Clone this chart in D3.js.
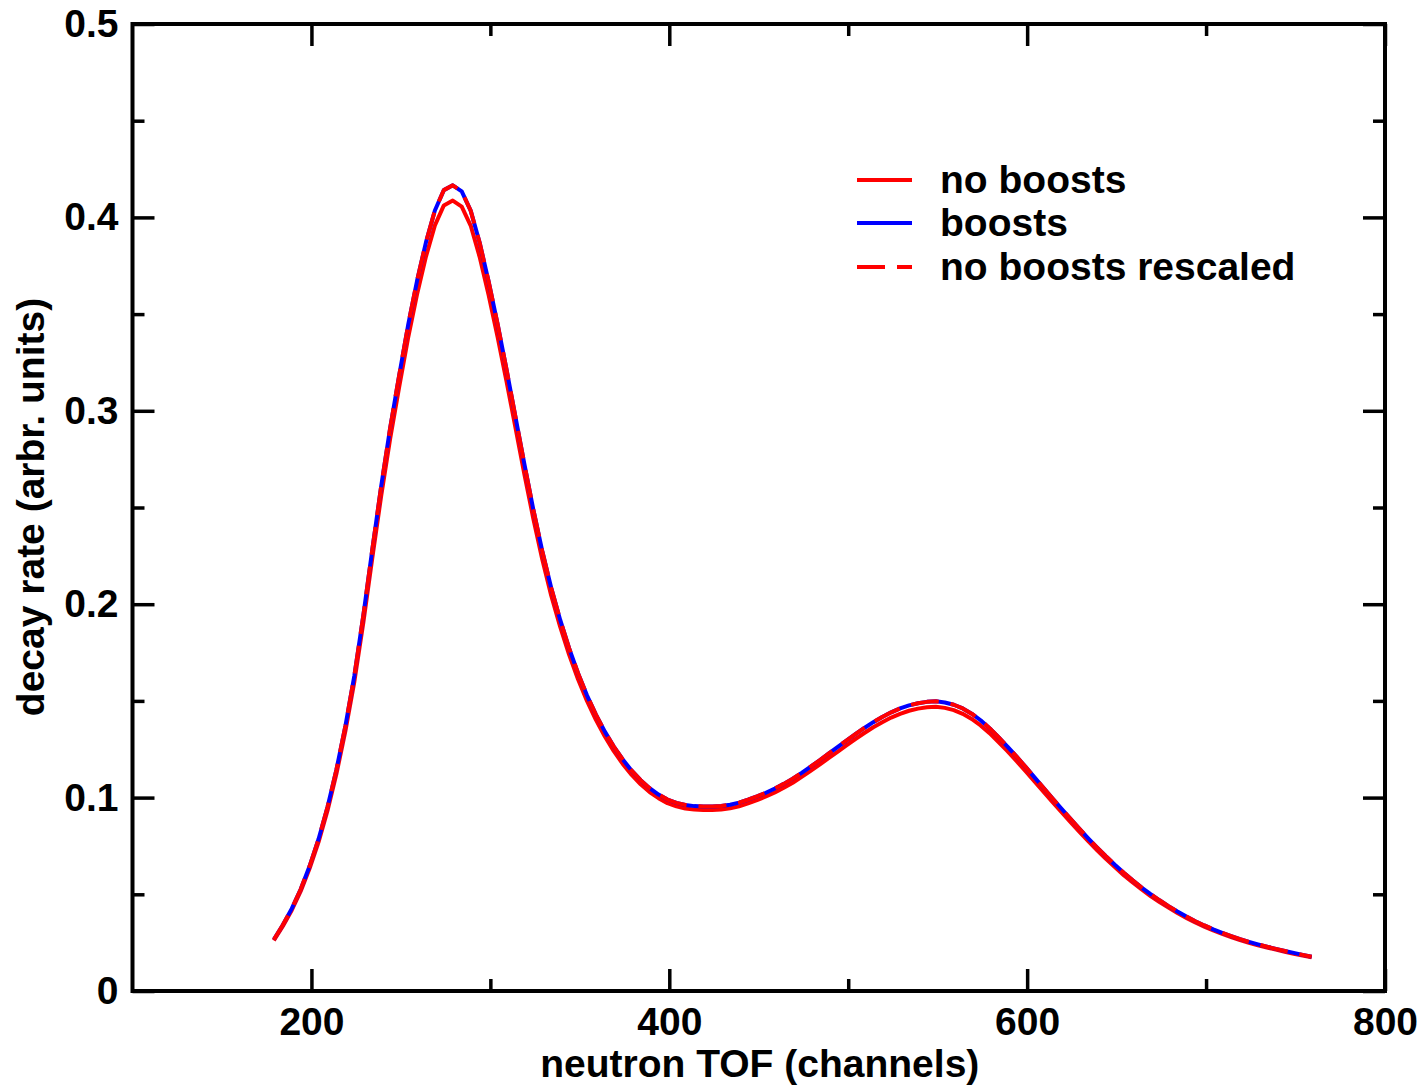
<!DOCTYPE html>
<html>
<head>
<meta charset="utf-8">
<script src="https://cdn.jsdelivr.net/npm/d3@7/dist/d3.min.js"></script>
<style>
  html, body { margin: 0; padding: 0; background: #fff; }
  svg { display: block; }
  text { font-family: "Liberation Sans", Arial, Helvetica, sans-serif; font-weight: bold; fill: #000; }
</style>
</head>
<body>
<svg id="chart" width="1422" height="1086"></svg>
<script>
// Sample grid: neutron time-of-flight channel, every 5 channels
const channels = d3.range(179, 760, 5);

// Decay rate with boosts
const boosts = [
  0.0266, 0.0341, 0.0426, 0.0526, 0.0646, 0.0786, 0.0951, 0.1146, 0.1371, 0.1631,
  0.1941, 0.2281, 0.2611, 0.2911, 0.3181, 0.3441, 0.3671, 0.3871, 0.4036, 0.4141,
  0.4166, 0.4135, 0.4035, 0.3870, 0.3670, 0.3450, 0.3215, 0.2970, 0.2725, 0.2490,
  0.2275, 0.2085, 0.1920, 0.1773, 0.1643, 0.1529, 0.1429, 0.1341, 0.1264, 0.1197,
  0.1139, 0.1090, 0.1049, 0.1016, 0.0990, 0.0973, 0.0962, 0.0956, 0.0954, 0.0954,
  0.0957, 0.0963, 0.0974, 0.0989, 0.1006, 0.1025, 0.1047, 0.1071, 0.1098, 0.1128,
  0.1160, 0.1193, 0.1227, 0.1261, 0.1295, 0.1328, 0.1360, 0.1390, 0.1417, 0.1441,
  0.1461, 0.1477, 0.1488, 0.1495, 0.1498, 0.1492, 0.1480, 0.1461, 0.1434, 0.1400,
  0.1359, 0.1312, 0.1264, 0.1213, 0.1160, 0.1106, 0.1052, 0.0998, 0.0945, 0.0893,
  0.0841, 0.0791, 0.0743, 0.0697, 0.0653, 0.0611, 0.0572, 0.0535, 0.0501, 0.0469,
  0.0439, 0.0411, 0.0385, 0.0361, 0.0339, 0.0319, 0.0301, 0.0284, 0.0268, 0.0254,
  0.0241, 0.0229, 0.0218, 0.0207, 0.0197, 0.0187, 0.0177
];

// Decay rate without boosts
const noBoosts = [
  0.0261, 0.0335, 0.0418, 0.0516, 0.0634, 0.0771, 0.0933, 0.1124, 0.1345, 0.1600,
  0.1904, 0.2238, 0.2561, 0.2856, 0.3121, 0.3376, 0.3601, 0.3797, 0.3959, 0.4062,
  0.4087, 0.4056, 0.3958, 0.3796, 0.3600, 0.3384, 0.3154, 0.2914, 0.2673, 0.2443,
  0.2232, 0.2045, 0.1884, 0.1739, 0.1612, 0.1500, 0.1402, 0.1316, 0.1240, 0.1174,
  0.1117, 0.1069, 0.1029, 0.0997, 0.0971, 0.0955, 0.0944, 0.0938, 0.0936, 0.0936,
  0.0939, 0.0945, 0.0955, 0.0970, 0.0987, 0.1006, 0.1027, 0.1051, 0.1077, 0.1107,
  0.1138, 0.1170, 0.1204, 0.1237, 0.1270, 0.1303, 0.1334, 0.1364, 0.1390, 0.1414,
  0.1433, 0.1449, 0.1460, 0.1467, 0.1470, 0.1464, 0.1452, 0.1433, 0.1407, 0.1373,
  0.1333, 0.1287, 0.1240, 0.1190, 0.1138, 0.1085, 0.1032, 0.0979, 0.0927, 0.0876,
  0.0825, 0.0776, 0.0729, 0.0684, 0.0641, 0.0599, 0.0561, 0.0525, 0.0491, 0.0460,
  0.0431, 0.0403, 0.0378, 0.0354, 0.0333, 0.0313, 0.0295, 0.0279, 0.0263, 0.0249,
  0.0236, 0.0225, 0.0214, 0.0203, 0.0193, 0.0183, 0.0174
];

// Decay rate without boosts, normalised to the boosted total
const noBoostsRescaled = [
  0.0266, 0.0341, 0.0426, 0.0526, 0.0646, 0.0786, 0.0951, 0.1146, 0.1371, 0.1631,
  0.1941, 0.2281, 0.2611, 0.2911, 0.3181, 0.3441, 0.3671, 0.3871, 0.4036, 0.4141,
  0.4166, 0.4135, 0.4035, 0.3870, 0.3670, 0.3450, 0.3215, 0.2970, 0.2725, 0.2490,
  0.2275, 0.2085, 0.1920, 0.1773, 0.1643, 0.1529, 0.1429, 0.1341, 0.1264, 0.1197,
  0.1139, 0.1090, 0.1049, 0.1016, 0.0990, 0.0973, 0.0962, 0.0956, 0.0954, 0.0954,
  0.0957, 0.0963, 0.0974, 0.0989, 0.1006, 0.1025, 0.1047, 0.1071, 0.1098, 0.1128,
  0.1160, 0.1193, 0.1227, 0.1261, 0.1295, 0.1328, 0.1360, 0.1390, 0.1417, 0.1441,
  0.1461, 0.1477, 0.1488, 0.1495, 0.1498, 0.1492, 0.1480, 0.1461, 0.1434, 0.1400,
  0.1359, 0.1312, 0.1264, 0.1213, 0.1160, 0.1106, 0.1052, 0.0998, 0.0945, 0.0893,
  0.0841, 0.0791, 0.0743, 0.0697, 0.0653, 0.0611, 0.0572, 0.0535, 0.0501, 0.0469,
  0.0439, 0.0411, 0.0385, 0.0361, 0.0339, 0.0319, 0.0301, 0.0284, 0.0268, 0.0254,
  0.0241, 0.0229, 0.0218, 0.0207, 0.0197, 0.0187, 0.0177
];

// Axis ticks
const xMajorTicks = [200, 400, 600, 800];
const xMinorTicks = [300, 500, 700];
const yMajorTicks = [0, 0.1, 0.2, 0.3, 0.4, 0.5];
const yMinorTicks = [0.05, 0.15, 0.25, 0.35, 0.45];
const yTickLabels = ["0", "0.1", "0.2", "0.3", "0.4", "0.5"];

const seriesNames = ["no boosts", "boosts", "no boosts rescaled"];
const seriesColors = ["#ff0000", "#0000ff", "#ff0000"];
const seriesDash = [null, null, "28,12"];
const seriesValues = [noBoosts, boosts, noBoostsRescaled];

const svg = d3.select("#chart");
const plotLeft = 132.5, plotRight = 1385, plotTop = 24, plotBottom = 991;

const x = d3.scaleLinear().domain([100, 800]).range([plotLeft, plotRight]);
const y = d3.scaleLinear().domain([0, 0.5]).range([plotBottom, plotTop]);

const MAJOR = 22, MINOR = 12, FONT = 39;

function styleAxis(g) {
  g.select(".domain").remove();
  g.selectAll(".tick line").attr("stroke", "#000").attr("stroke-width", 3.5);
  g.selectAll("text").attr("font-size", FONT).attr("font-family", null).attr("fill", "#000");
}

// Bottom axis with labels
svg.append("g").attr("transform", `translate(0,${plotBottom})`)
  .call(d3.axisBottom(x).tickValues(xMajorTicks).tickSizeInner(-MAJOR).tickSizeOuter(0)
    .tickPadding(16).tickFormat(d3.format("d")))
  .call(styleAxis);
svg.append("g").attr("transform", `translate(0,${plotBottom})`)
  .call(d3.axisBottom(x).tickValues(xMinorTicks).tickSizeInner(-MINOR).tickSizeOuter(0).tickFormat(""))
  .call(styleAxis);
// Top axis (ticks only)
svg.append("g").attr("transform", `translate(0,${plotTop})`)
  .call(d3.axisTop(x).tickValues(xMajorTicks).tickSizeInner(-MAJOR).tickSizeOuter(0).tickFormat(""))
  .call(styleAxis);
svg.append("g").attr("transform", `translate(0,${plotTop})`)
  .call(d3.axisTop(x).tickValues(xMinorTicks).tickSizeInner(-MINOR).tickSizeOuter(0).tickFormat(""))
  .call(styleAxis);
// Left axis with labels
svg.append("g").attr("transform", `translate(${plotLeft},0)`)
  .call(d3.axisLeft(y).tickValues(yMajorTicks).tickSizeInner(-MAJOR).tickSizeOuter(0)
    .tickPadding(14).tickFormat((d, i) => yTickLabels[i]))
  .call(styleAxis);
svg.append("g").attr("transform", `translate(${plotLeft},0)`)
  .call(d3.axisLeft(y).tickValues(yMinorTicks).tickSizeInner(-MINOR).tickSizeOuter(0).tickFormat(""))
  .call(styleAxis);
// Right axis (ticks only)
svg.append("g").attr("transform", `translate(${plotRight},0)`)
  .call(d3.axisRight(y).tickValues(yMajorTicks).tickSizeInner(-MAJOR).tickSizeOuter(0).tickFormat(""))
  .call(styleAxis);
svg.append("g").attr("transform", `translate(${plotRight},0)`)
  .call(d3.axisRight(y).tickValues(yMinorTicks).tickSizeInner(-MINOR).tickSizeOuter(0).tickFormat(""))
  .call(styleAxis);

// Frame
svg.append("rect")
  .attr("x", plotLeft).attr("y", plotTop)
  .attr("width", plotRight - plotLeft).attr("height", plotBottom - plotTop)
  .attr("fill", "none").attr("stroke", "#000").attr("stroke-width", 4);

// Curves
const line = d3.line()
  .x((d, i) => x(channels[i]))
  .y(d => y(d));

svg.append("g").selectAll("path")
  .data(seriesValues)
  .join("path")
  .attr("d", d => line(d))
  .attr("fill", "none")
  .attr("stroke", (d, i) => seriesColors[i])
  .attr("stroke-width", 4)
  .attr("stroke-linejoin", "round")
  .attr("stroke-dasharray", (d, i) => seriesDash[i]);

// Legend
const legendY = [180, 223, 267];
const lg = svg.append("g");
seriesNames.forEach((name, i) => {
  lg.append("line")
    .attr("x1", 857).attr("x2", 912)
    .attr("y1", legendY[i]).attr("y2", legendY[i])
    .attr("stroke", seriesColors[i]).attr("stroke-width", 4)
    .attr("stroke-dasharray", seriesDash[i]);
  lg.append("text")
    .attr("x", 940).attr("y", legendY[i] + 13)
    .attr("font-size", FONT)
    .text(name);
});

// Axis titles
svg.append("text")
  .attr("x", (plotLeft + plotRight) / 2 + 1).attr("y", 1077)
  .attr("text-anchor", "middle").attr("font-size", FONT)
  .text("neutron TOF (channels)");
svg.append("text")
  .attr("transform", "translate(44,507) rotate(-90)")
  .attr("text-anchor", "middle").attr("font-size", FONT)
  .text("decay rate (arbr. units)");
</script>
</body>
</html>
